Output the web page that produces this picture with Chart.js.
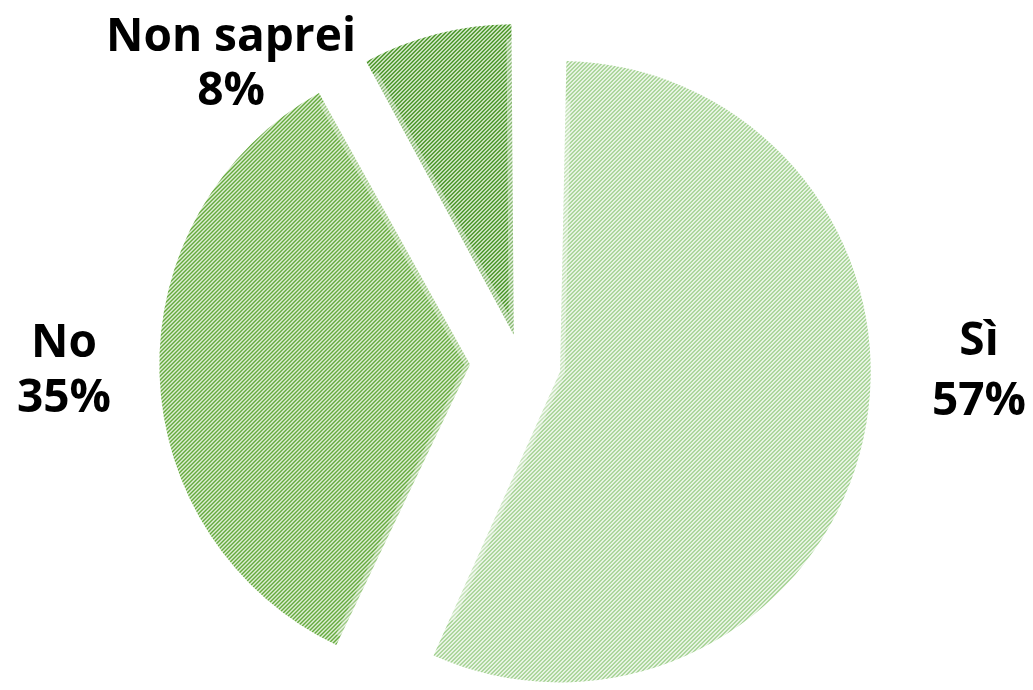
<!DOCTYPE html>
<html>
<head>
<meta charset="utf-8">
<script src="https://cdn.jsdelivr.net/npm/chart.js@4"></script>
<style>
  html, body { margin: 0; padding: 0; background: #fff; }
  #wrap { width: 1033px; height: 690px; }
</style>
</head>
<body>
<div id="wrap"><canvas id="pie" width="1033" height="690"></canvas></div>
<script>
// dati
const categories = ["Sì", "No", "Non saprei"];
const values = [57, 35, 8];

const ctx = document.getElementById("pie").getContext("2d");

// tratteggio diagonale come in Excel
function hatch(bg, fg) {
    const t = document.createElement("canvas");
    t.width = 4; t.height = 4;
    const g = t.getContext("2d");
    g.fillStyle = bg;
    g.fillRect(0, 0, 4, 4);
    g.fillStyle = fg;
    for (let y = 0; y < 4; y++)
        for (let x = 0; x < 4; x++)
            if ((x + y) % 4 < 2) g.fillRect(x, y, 1, 1);
    return ctx.createPattern(t, "repeat");
}

const fills = [
    hatch("#f1f8ee", "#a3d291"),
    hatch("#e2f0da", "#62a93a"),
    hatch("#d8eacd", "#4b962a")
];

// posizione delle etichette (centro, linee di base)
const labelPos = [
    { x: 979, y: [355, 415] },
    { x: 64,  y: [357, 412] },
    { x: 231, y: [51, 105] }
];

// Chart.js allarga il raggio degli spicchi esplosi: lo riporto uguale per tutti
const radiusFix = {
    id: "radiusFix",
    afterDatasetUpdate(chart, args) {
        args.meta.data.forEach(arc => {
            const off = (arc.options.offset || 0) / 4;
            const fix = 1 - Math.sin(Math.min(Math.PI, arc.circumference));
            arc.outerRadius -= off * fix;
        });
    }
};

const pieLabels = {
    id: "pieLabels",
    afterDraw(chart) {
        const c = chart.ctx;
        c.save();
        c.fillStyle = "#000";
        c.font = "bold 46px 'Open Sans'";
        c.textAlign = "center";
        c.textBaseline = "alphabetic";
        chart.data.labels.forEach((lab, i) => {
            const p = labelPos[i];
            c.fillText(lab, p.x, p.y[0]);
            c.fillText(chart.data.datasets[0].data[i] + "%", p.x, p.y[1]);
        });
        c.restore();
    }
};

new Chart(ctx, {
    type: "pie",
    data: {
        labels: categories,
        datasets: [{
            data: values,
            backgroundColor: fills,
            borderColor: "rgba(255,255,255,0.35)",
            borderWidth: 5,
            borderAlign: "inner",
            offset: [160, 204, 116]
        }]
    },
    options: {
        responsive: false,
        animation: false,
        events: [],
        radius: 311,
        layout: { padding: { left: 40, right: 31, top: 40, bottom: 4 } },
        plugins: {
            legend: { display: false },
            tooltip: { enabled: false }
        }
    },
    plugins: [radiusFix, pieLabels]
});
</script>
</body>
</html>
